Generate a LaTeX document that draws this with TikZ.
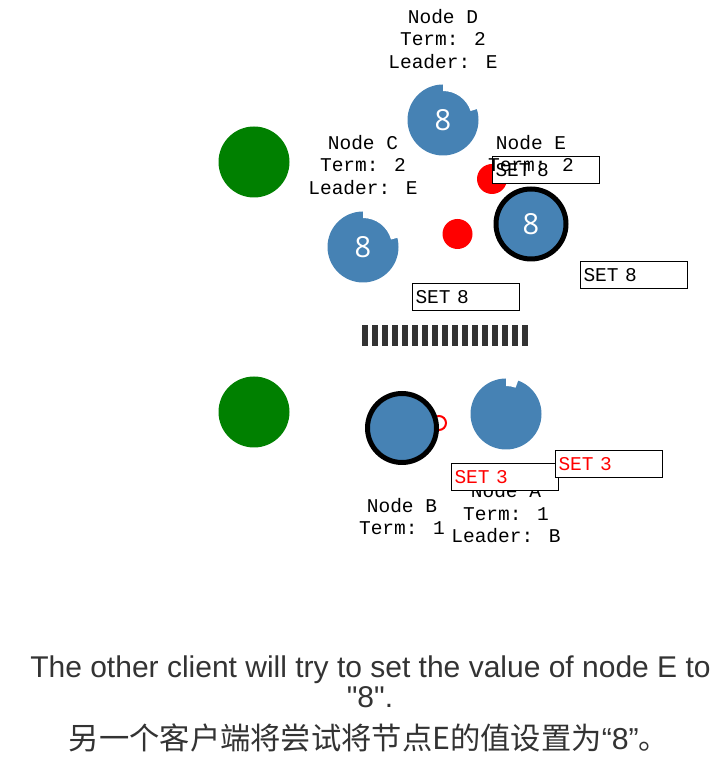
\documentclass[tikz,border=0pt]{standalone}
\usepackage{fontspec}
\setmainfont{Liberation Sans}
\newfontfamily\capfont{Liberation Sans}
\newfontfamily\monofont{Liberation Mono}
\newfontfamily\cjkfont{Noto Sans CJK SC}
\newfontfamily\numfont{Open Sans}
\usetikzlibrary{positioning}

\definecolor{steel}{HTML}{4682B4}
\definecolor{leafgreen}{HTML}{008000}
\definecolor{inkgray}{HTML}{333333}

% white notch in the rim of a node: node, from angle, to angle, inner radius
\newcommand{\rimcut}[4]{%
  \fill[white,shift={(#1.center)}] (#2:#4) -- (#2:38) arc[start angle=#2,end angle=#3,radius=38]
    -- (#3:#4) arc[start angle=#3,end angle=#2,radius=#4] -- cycle;}

\begin{document}
\begin{tikzpicture}[%
x=1pt, y=1pt,
server/.style={circle, fill=steel, minimum size=71pt, inner sep=0pt, text=white, font=\numfont\fontsize{29}{30}\selectfont},
leader/.style={server, draw=black, line width=5pt, minimum size=70pt},
peer/.style={circle, fill=leafgreen, minimum size=71pt, inner sep=0pt},
msg/.style={circle, fill=red, minimum size=30pt, inner sep=0pt},
info/.style={align=center, font=\monofont\fontsize{19.5}{22.5}\selectfont, inner sep=0pt, anchor=north},
setbox/.style={draw=black, line width=1pt, fill=white, anchor=north west, inner xsep=3pt, inner ysep=0pt, text width=101pt, text height=20pt, text depth=7pt, align=left, font=\monofont\fontsize{19.5}{22.5}\selectfont},
caption/.style={text=inkgray, inner sep=0pt, anchor=base}
]
\useasboundingbox (0,0) rectangle (722,771);

% clients
\node[peer] (p1) at (254,609) {};
\node[peer] (p2) at (254,359) {};

% messages in flight
\node[msg] (m1) at (492,592) {};
\node[msg] (m2) at (457.5,537) {};
\node[circle, draw=red, line width=2pt, minimum size=14pt, inner sep=0pt] (ping) at (439,348) {};

% partition 1: C, D, E
\node[server] (D) at (443,651) {8};
\node[server] (C) at (363,524) {8};
\node[leader] (E) at (531,547) {8};
\rimcut{D}{18}{90}{29}
\rimcut{C}{15}{90}{29}

% partition 2: A, B
\node[server] (A) at (506,357) {};
\node[leader, minimum size=69pt] (B) at (402,343) {};
\rimcut{A}{70}{90}{28}

% network split
\coordinate (cut1) at (362,435.5);
\coordinate (cut2) at (528,435.5);
\draw[inkgray, line width=21pt, dash pattern=on 6pt off 4pt] (cut1) -- (cut2);

\node[info] (lA) at (506,287.5) {Node A\\Term: 1\\Leader: B};
\node[info] (lB) at (402,273) {Node B\\Term: 1};

% requests
\node[setbox] (s1) at (412,488) {SET 8};
\node[setbox] (s2) at (580,510) {SET 8};
\node[setbox] (s3) at (492,615) {SET 8};
\node[setbox, text=red] (s4) at (451,308) {SET 3};
\node[setbox, text=red] (s5) at (555,321) {SET 3};

\node[info] (lC) at (363,636) {Node C\\Term: 2\\Leader: E};
\node[info] (lD) at (443,762) {Node D\\Term: 2\\Leader: E};
\node[info] (lE) at (531,636) {Node E\\Term: 2};

\node[caption, font=\capfont\fontsize{30}{36}\selectfont] (cap1) at (370.5,93) {The other client will try to set the value of node E to};
\node[caption, font=\capfont\fontsize{30}{36}\selectfont] (cap2) at (370,63) {"8".};
\node[caption, font=\fontsize{30.3}{34}\selectfont] (cap3) at (369,21) {{\cjkfont 另一个客户端将尝试将节点E的值设置为}{\capfont “8”}{\cjkfont 。}};
\end{tikzpicture}
\end{document}
